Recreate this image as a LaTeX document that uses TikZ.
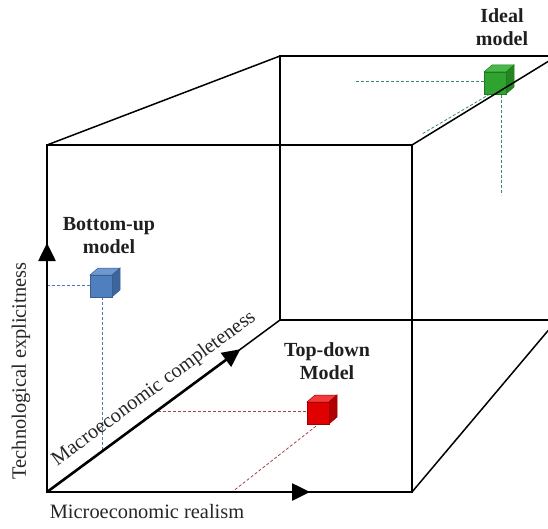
\documentclass[tikz,border=0pt]{standalone}
\usepackage{fontspec}
\setmainfont{Liberation Serif}
\usetikzlibrary{arrows.meta,calc}

% small shaded cube: #1,#2 = top-left of front face, #3 front, #4 top, #5 side, #6 outline
\newcommand\drawcube[6]{%
  \filldraw[fill=#4, draw=#6, line width=0.5pt] (#1,#2) -- ++(8,-7) -- ++(22,0) -- ++(-8,7) -- cycle;
  \filldraw[fill=#5, draw=#6, line width=0.5pt] (#1+22,#2) -- ++(8,-7) -- ++(0,22) -- ++(-8,7) -- cycle;
  \filldraw[fill=#3, draw=#6, line width=0.5pt] (#1,#2) rectangle ++(22,22);
}

\definecolor{bluefront}{HTML}{4F7FBE}
\definecolor{bluetop}{HTML}{6E98D0}
\definecolor{blueside}{HTML}{3B659C}
\definecolor{blueline}{HTML}{3A5F8F}
\definecolor{bluedash}{HTML}{4A78B8}
\definecolor{redfront}{HTML}{E00000}
\definecolor{redtop}{HTML}{F23A3A}
\definecolor{redside}{HTML}{B00000}
\definecolor{redline}{HTML}{A00000}
\definecolor{reddash}{HTML}{A04848}
\definecolor{greenfront}{HTML}{2FA22F}
\definecolor{greentop}{HTML}{48B848}
\definecolor{greenside}{HTML}{238623}
\definecolor{greenline}{HTML}{1E7A1E}
\definecolor{greendash}{HTML}{3C8A5E}

\begin{document}
\begin{tikzpicture}[x=1pt,y=-1pt,
  edge/.style={line width=1.5pt, black},
  axis/.style={line width=2.6pt, black, -{Triangle[length=18pt,width=17pt]}},
  guide/.style={dash pattern=on 3pt off 2pt, line width=0.8pt},
  lbl/.style={font=\fontsize{20}{23}\selectfont\bfseries, align=center, text=black!88},
  axlbl/.style={font=\fontsize{20.4}{23}\selectfont, text=black!85, inner sep=0pt}]
\useasboundingbox (0,0) rectangle (548,529);
\clip (0,0) rectangle (548,529);

% corners of the front and back faces
\coordinate (F1) at (47,145);
\coordinate (F2) at (412,145);
\coordinate (F3) at (412,492);
\coordinate (O)  at (47,492);
\coordinate (B1) at (280,56);
\coordinate (B2) at (557,56);
\coordinate (B3) at (557,320);
\coordinate (B4) at (280,320);

% guide lines from the models to the axes
\coordinate (bu1) at (47,285);  \coordinate (bu2) at (90,285);
\coordinate (bu3) at (102,297); \coordinate (bu4) at (102,451);
\draw[guide, bluedash] (bu1) -- (bu2);
\draw[guide, bluedash] (bu3) -- (bu4);

\coordinate (td1) at (158,411); \coordinate (td2) at (307,411);
\coordinate (td3) at (320,423); \coordinate (td4) at (232,492);
\draw[guide, reddash] (td1) -- (td2);
\draw[guide, reddash] (td3) -- (td4);

\coordinate (id1) at (356,81);  \coordinate (id2) at (484,81);
\coordinate (id3) at (501,95);  \coordinate (id4) at (501,195);
\coordinate (id5) at (490,94);  \coordinate (id6) at (422,134);
\draw[guide, greendash] (id1) -- (id2);
\draw[guide, greendash] (id3) -- (id4);
\draw[guide, greendash] (id5) -- (id6);

% model cubes
\drawcube{90}{275}{bluefront}{bluetop}{blueside}{blueline}
\drawcube{307}{402}{redfront}{redtop}{redside}{redline}
\drawcube{484}{72}{greenfront}{greentop}{greenside}{greenline}

% box edges
\draw[edge] (F1) -- (F2) -- (F3) -- (O) -- cycle;
\draw[edge] (B1) -- (B2) -- (B3) -- (B4) -- cycle;
\draw[edge] (F1) -- (B1);
\draw[edge] (F2) -- (B2);
\draw[edge] (F3) -- (B3);
\draw[edge] (O) -- (B4);

% axes
\coordinate (ax) at (310,492);
\coordinate (ay) at (47,243);
\coordinate (az) at ($(O)!0.83!(B4)$);
\draw[axis] (O) -- (ax);
\draw[axis] (O) -- (ay);
\draw[axis] (O) -- (az);

% axis labels
\node[axlbl] (lx) at (147,512) {Microeconomic realism};
\node[axlbl, rotate=90] (ly) at (21,371) {Technological explicitness};
\node[axlbl, rotate=36.4] (lz) at (154,389) {Macroeconomic completeness};

% model labels
\node[lbl] (nbu) at (109,236) {Bottom-up\\model};
\node[lbl] (ntd) at (327,361) {Top-down\\Model};
\node[lbl] (nid) at (502,27) {Ideal\\model};
\end{tikzpicture}
\end{document}
